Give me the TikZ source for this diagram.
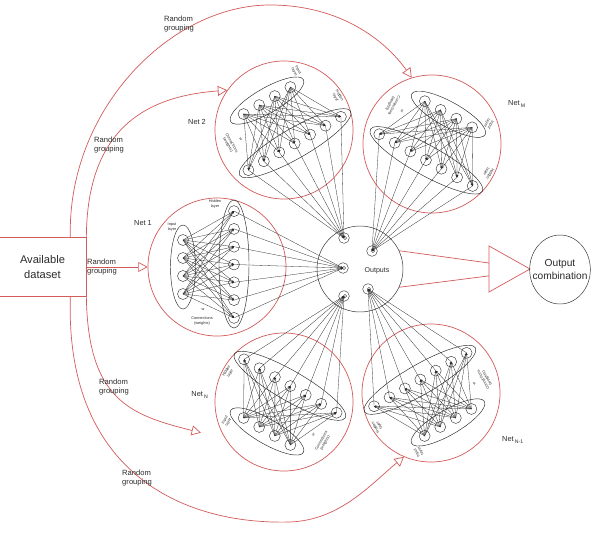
\documentclass[tikz,border=0pt]{standalone}
\usepackage{fontspec}
\setmainfont{Liberation Sans}
\usepackage{tikz}
\usetikzlibrary{calc,arrows.meta,shapes.geometric}
\definecolor{ens-red}{HTML}{D25B5B}
\definecolor{ens-ink}{HTML}{2B2B2B}
\tikzset{
  redline/.style={ens-red, line width=0.6pt},
  redarrow/.style={redline, -{Triangle[open, length=8pt, width=8.5pt]}},
  netcirc/.style={circle, draw=ens-red, line width=0.6pt, minimum size=4.14cm, inner sep=0pt},
  neuron/.style={circle, draw=ens-ink, line width=0.35pt, minimum size=0.33cm, inner sep=0pt},
  outneuron/.style={circle, draw=ens-ink, line width=0.35pt, minimum size=0.32cm, inner sep=0pt,
    path picture={\draw[ens-ink, line width=0.3pt] ([xshift=0.03cm]path picture bounding box.center) circle (0.05cm);}},
  layerring/.style={ellipse, draw=ens-ink, line width=0.4pt, inner sep=0pt, transform shape},
  wire/.style={ens-ink, line width=0.25pt, -{Stealth[length=2pt, width=1.5pt]}},
  layertext/.style={font=\fontsize{3.3}{3.7}\selectfont, align=center, text=ens-ink, inner sep=0pt, transform shape},
  grouping/.style={font=\fontsize{6.5}{7.7}\selectfont, align=left, text=ens-ink, inner sep=0pt},
  netlabel/.style={font=\fontsize{6.3}{7}\selectfont, text=ens-ink, inner sep=0pt},
}

\begin{document}
\begin{tikzpicture}[x=0.03cm, y=-0.03cm]
    \useasboundingbox (0,0) rectangle (596,532);

    \node[draw=ens-red, line width=0.6pt, minimum width=2.61cm, minimum height=1.77cm, align=center,
      font=\fontsize{9.5}{12}\selectfont, text=ens-ink] (data) at (42.5,267) {Available\\dataset};

    \node[circle, draw=ens-ink, line width=0.4pt, minimum size=2.58cm] (outs) at (360,269) {};
    \node[font=\fontsize{6}{7}\selectfont, text=ens-ink] (outs-text) at (377,271) {Outputs};
    \node[outneuron] (o1) at (343,268) {};
    \node[outneuron] (o2) at (344,238) {};
    \node[outneuron] (o3) at (372,251) {};
    \node[outneuron] (o4) at (344,296) {};
    \node[outneuron] (o5) at (368,289) {};

    \foreach \nt/\cx/\cy/\ang/\outp in {a/217/267/0/o1, b/284/130/-60/o2, c/432/144/-119/o3, d/284/402/60/o4, e/431/393/120/o5}{
      \node[netcirc] (net-\nt) at (\cx,\cy) {};
      \begin{scope}[shift={(\cx,\cy)}, rotate=\ang]
        \node[layerring, minimum width=0.75cm, minimum height=2.52cm] (\nt-inring) at (-34,0) {};
        \node[layerring, minimum width=0.9cm, minimum height=3.84cm] (\nt-hidring) at (17,-3) {};
        \foreach \k in {1,...,4} \node[neuron] (\nt-i\k) at (-34,{(\k-2.5)*18}) {};
        \foreach \k in {1,...,7} \node[neuron] (\nt-h\k) at (17,{(\k-4)*17.8-2.5}) {};
        \node[layertext] (\nt-intext) at (-45,-40) {Input\\layer};
        \node[layertext] (\nt-hidtext) at (-2,-63) {Hidden\\layer};
        \node[layertext] (\nt-wtext) at (-14,42) {w};
        \node[layertext] (\nt-context) at (-15,54) {Connections\\(weights)};
      \end{scope}
      \foreach \i in {1,...,4} \foreach \k in {1,...,7} \draw[wire] (\nt-i\i.center) -- (\nt-h\k.center);
      \foreach \k in {1,...,7} \draw[wire] (\nt-h\k.center) -- (\outp.center);
    }

    \node[netlabel] (lab-a) at (143,223) {Net 1};
    \node[netlabel] (lab-b) at (197,122) {Net 2};
    \node[netlabel] (lab-c) at (517,104) {Net\,\textsubscript{M}};
    \node[netlabel] (lab-d) at (200,395) {Net\,\textsubscript{N}};
    \node[netlabel] (lab-e) at (513,440) {Net\,\textsubscript{N-1}};

    \draw[redarrow] (data.east) -- (net-a.west);
    \draw[redarrow] (data.north east) .. controls (87,125) and (150,96) .. (net-b.145);
    \draw[redarrow] ($(data.north east)+(-16,0)$) .. controls (67,110) and (170,5) .. (270,5)
      .. controls (340,5) and (385,40) .. (net-c.107);
    \draw[redarrow, shorten >=0.75cm] (data.south east) .. controls (88,400) and (130,415) .. (net-d.212);
    \draw[redarrow] ($(data.south east)+(-16,0)$) .. controls (65,470) and (180,525) .. (290,522)
      .. controls (340,520) and (370,485) .. (net-e.247);

    \node[grouping, anchor=west] (rg-c) at (164,24.5) {Random\\grouping};
    \node[grouping, anchor=west] (rg-b) at (94,145.5) {Random\\grouping};
    \node[grouping, anchor=west] (rg-a) at (87,267) {Random\\grouping};
    \node[grouping, anchor=west] (rg-d) at (99,387) {Random\\grouping};
    \node[grouping, anchor=west] (rg-e) at (122,478) {Random\\grouping};

    \coordinate (tri-a) at (489,246);
    \coordinate (tri-b) at (489,292);
    \coordinate (tri-apex) at (530,269);
    \draw[redline] (tri-a) -- (tri-apex) -- (tri-b) -- cycle;
    \draw[redline] (outs.25) -- ($(tri-a)!0.37!(tri-b)$);
    \draw[redline] (outs.-25) -- ($(tri-a)!0.65!(tri-b)$);

    \node[ellipse, draw=ens-ink, line width=0.4pt, minimum width=1.82cm, minimum height=2.07cm, inner sep=0pt] (comb) at (560,269.5) {};
    \node[align=center, font=\fontsize{8.7}{10.5}\selectfont, text=ens-ink] (comb-text) at (comb.center) {Output\\combination};
\end{tikzpicture}
\end{document}
